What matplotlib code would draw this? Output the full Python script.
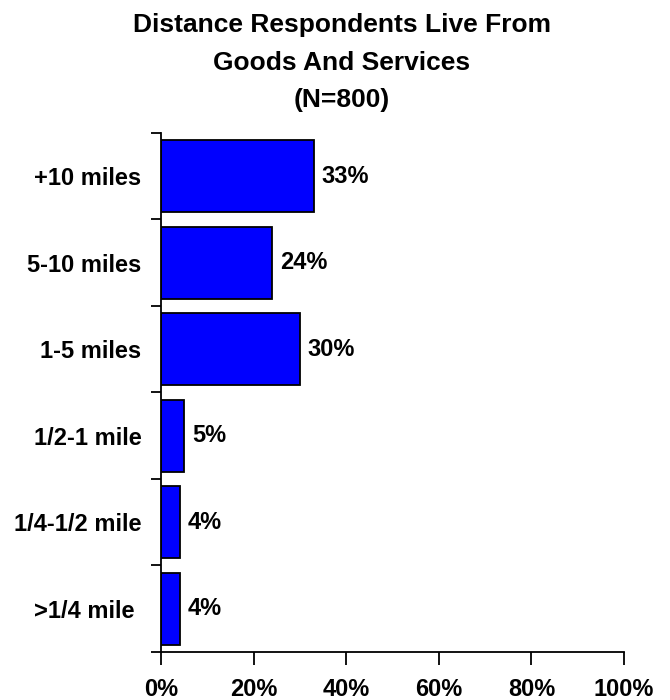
import matplotlib
matplotlib.use('Agg')
import matplotlib.pyplot as plt
import numpy as np

plt.rcParams['font.family'] = ['Liberation Sans', 'DejaVu Sans']
plt.rcParams['font.weight'] = 'bold'

# data ----------
categories = ['>1/4 mile ', '1/4-1/2 mile', '1/2-1 mile', '1-5 miles', '5-10 miles', '+10 miles']
values = [4, 4, 5, 30, 24, 33]
x_ticks = [0, 20, 40, 60, 80, 100]
x_labels = ['0%', '20%', '40%', '60%', '80%', '100%']
title = 'Distance Respondents Live From\nGoods And Services\n(N=800)'

fig = plt.figure(figsize=(6.7, 7), dpi=100)
ax = fig.add_axes([0.2403, 0.0686, 0.691, 0.7414])

y = np.arange(len(categories))
ax.barh(y, values, height=0.83, color='#0000FF', edgecolor='black', linewidth=1.3)

for yi, v in zip(y, values):
    ax.text(v + 1.7, yi, f'{v}%', va='center', ha='left', fontsize=17, fontweight='bold')

ax.set_xlim(0, 100)
ax.set_ylim(-0.5, len(categories) - 0.5)

ax.set_xticks(x_ticks)
ax.set_xticklabels(x_labels, fontsize=17, fontweight='bold')
ax.set_yticks(y)
ax.set_yticklabels(categories, fontsize=17, fontweight='bold')
ax.set_yticks(np.arange(len(categories) + 1) - 0.5, minor=True)

ax.tick_params(axis='y', which='major', length=0, pad=14)
ax.tick_params(axis='y', which='minor', length=7, width=1.3, direction='out')
ax.tick_params(axis='x', length=9, width=1.3, direction='out', pad=10)

for s in ['top', 'right']:
    ax.spines[s].set_visible(False)
for s in ['left', 'bottom']:
    ax.spines[s].set_linewidth(1.3)

fig.suptitle(title, x=0.51, y=0.981, fontsize=19, fontweight='bold', linespacing=1.7, va='top')

fig.savefig('out.png', dpi=100)
